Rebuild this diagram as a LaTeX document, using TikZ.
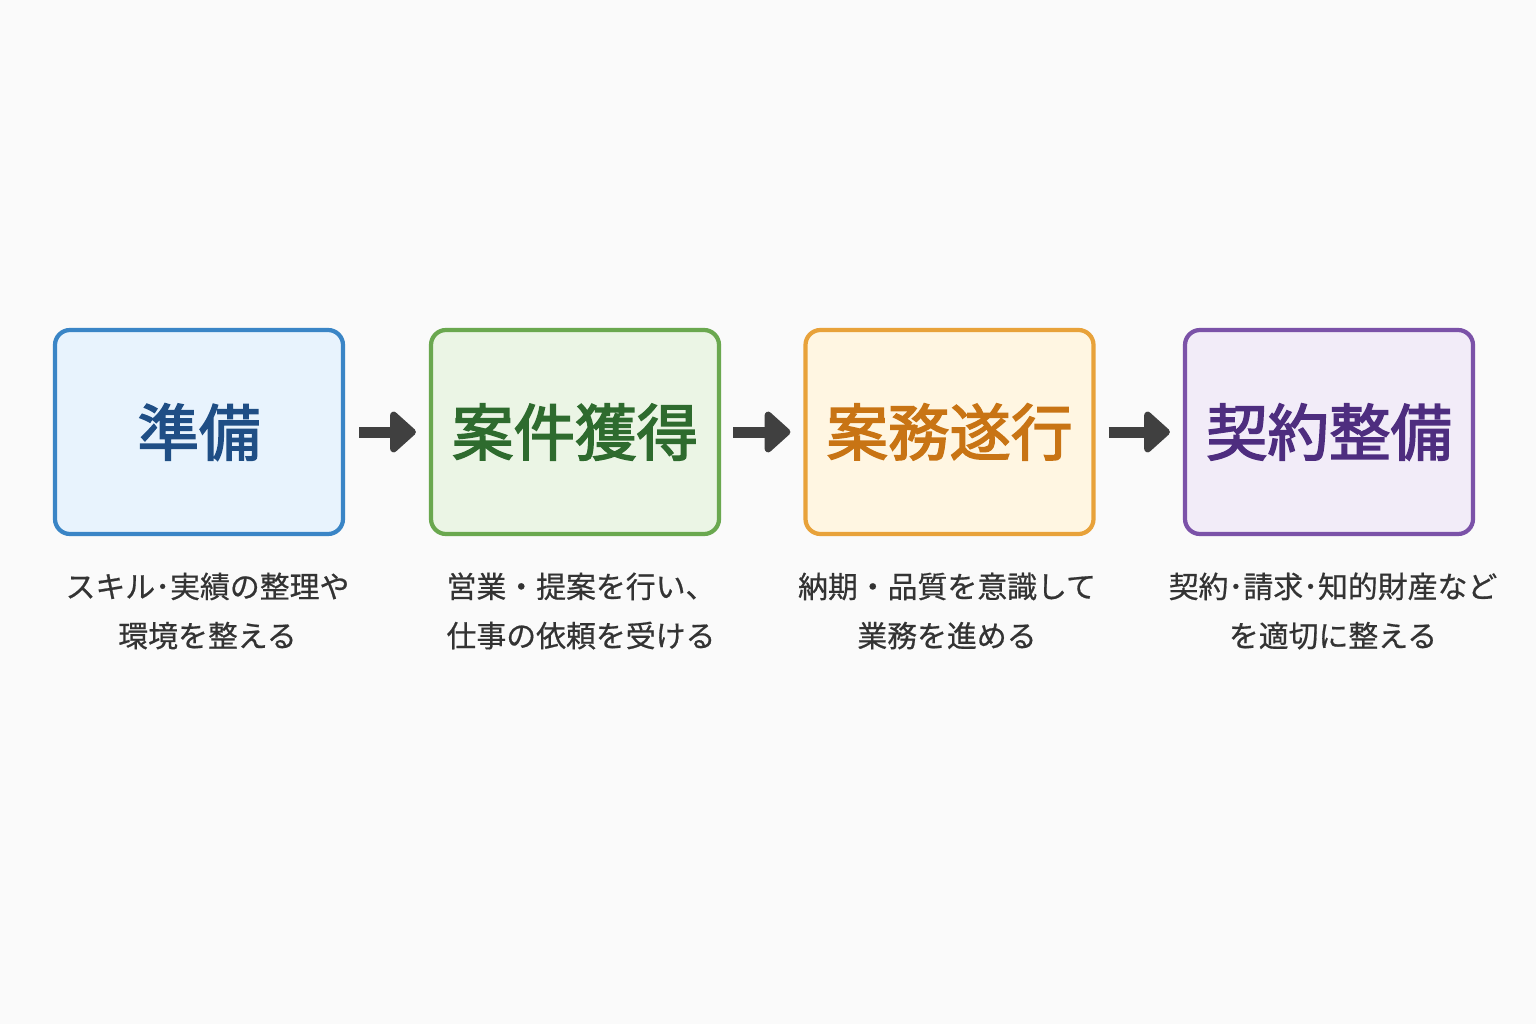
\documentclass[tikz,border=0pt]{standalone}
\usepackage{fontspec}
\setmainfont{Noto Sans CJK JP}
\newfontfamily\cjkbold{Noto Sans CJK JP}[FakeBold=2.5]
\newfontfamily\cjkmed{Noto Sans CJK JP}[FakeBold=0.6]
\usetikzlibrary{arrows.meta}
\definecolor{bluedraw}{HTML}{3A85C6}\definecolor{bluefill}{HTML}{E8F3FD}\definecolor{bluetext}{HTML}{1F4E85}
\definecolor{greendraw}{HTML}{6AA84F}\definecolor{greenfill}{HTML}{EBF5E5}\definecolor{greentext}{HTML}{2E6B2E}
\definecolor{orangedraw}{HTML}{E8A23A}\definecolor{orangefill}{HTML}{FFF6E2}\definecolor{orangetext}{HTML}{C87414}
\definecolor{purpledraw}{HTML}{7B52A8}\definecolor{purplefill}{HTML}{F2ECF8}\definecolor{purpletext}{HTML}{4E2D7F}
\definecolor{arrowgray}{HTML}{404040}\definecolor{captext}{HTML}{333333}
\begin{document}
\begin{tikzpicture}[
        phase/.style={
            rectangle,
            rounded corners=0.3cm,
            line width=2.4pt,
            minimum width=5.76cm,
            minimum height=4.08cm,
            font=\cjkbold\fontsize{35}{38}\selectfont
        },
        caption/.style={
            align=center,
            text=captext,
            font=\cjkmed\fontsize{17}{28}\selectfont
        },
        flow/.style={
            -{Triangle[length=0.55cm,width=0.95cm,round]},
            line width=0.22cm,
            draw=arrowgray
        }
    ]
        % Canvas
        \fill[white!98!black] (0,0) rectangle (30.72,20.48);
        \useasboundingbox (0,0) rectangle (30.72,20.48);

        % Phases
        \node[phase, draw=bluedraw, fill=bluefill, text=bluetext] (prep) at (3.98,11.84) {準備};
        \node[phase, draw=greendraw, fill=greenfill, text=greentext] (order) at (11.50,11.84) {案件獲得};
        \node[phase, draw=orangedraw, fill=orangefill, text=orangetext] (work) at (18.99,11.84) {案務遂行};
        \node[phase, draw=purpledraw, fill=purplefill, text=purpletext] (contract) at (26.58,11.84) {契約整備};

        % Arrows
        \draw[flow] ([xshift=0.28cm]prep.east) -- ([xshift=-0.26cm]order.west);
        \draw[flow] ([xshift=0.24cm]order.east) -- ([xshift=-0.26cm]work.west);
        \draw[flow] ([xshift=0.26cm]work.east) -- ([xshift=-0.26cm]contract.west);

        % Captions
        \node[caption] (prepcap) at (4.15,8.26) {スキル･実績の整理や\\環境を整える};
        \node[caption] (ordercap) at (11.62,8.26) {営業・提案を行い、\\仕事の依頼を受ける};
        \node[caption] (workcap) at (18.94,8.26) {納期・品質を意識して\\業務を進める};
        \node[caption] (contractcap) at (26.66,8.26) {契約･請求･知的財産など\\を適切に整える};
\end{tikzpicture}
\end{document}
